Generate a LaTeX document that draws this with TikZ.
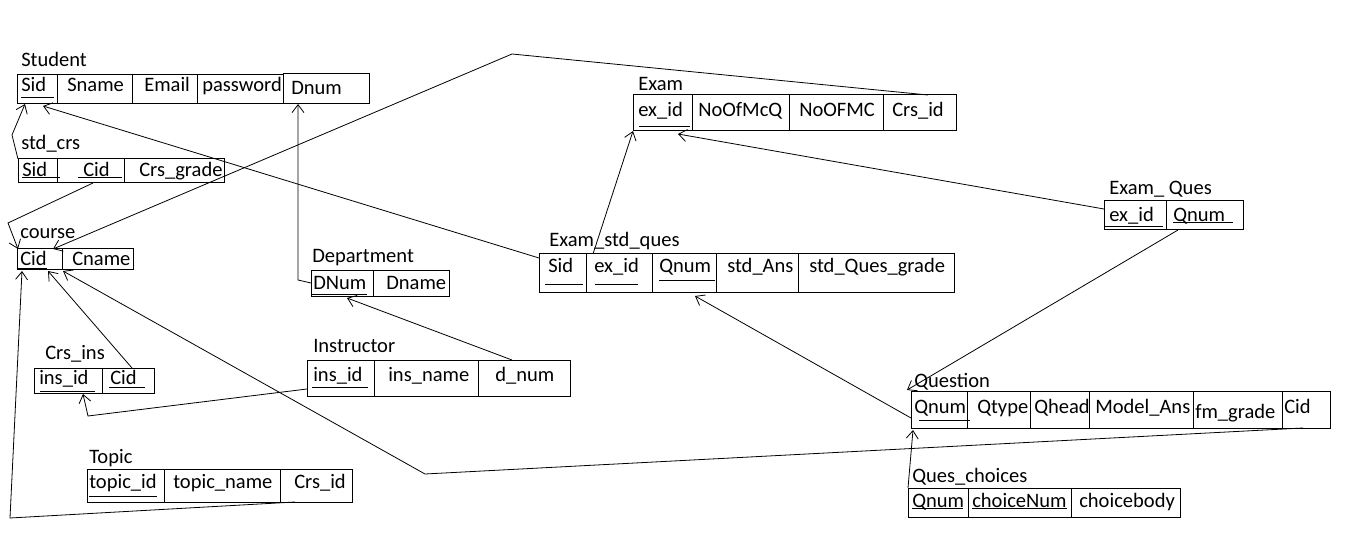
\documentclass[tikz,border=0pt]{standalone}
\usepackage{fontspec}
\setmainfont{Carlito}
\usetikzlibrary{arrows.meta,fit}
\tikzset{
  cell/.style={draw, line width=0.75pt, inner sep=0pt, outer sep=0pt},
  lbl/.style={anchor=base west, inner sep=0pt, font=\fontsize{15.4}{18}\selectfont},
  ul/.style={line width=0.75pt},
  rel/.style={line width=0.6pt, -{Straight Barb[length=6pt,width=9pt]}},
}
\newcommand{\cell}[8]{\node[cell, fit={(#2,#3)(#4,#5)}] (#1) {}; \node[lbl] (#1-t) at (#6,#7) {#8};}
\newcommand{\ulin}[3]{\draw[ul] (#1,#3) -- (#2,#3);}
\begin{document}
\begin{tikzpicture}[x=0.75pt,y=-0.75pt]
\useasboundingbox (0,0) rectangle (1360,538);
% Student
\node[lbl] (student) at (21,67) {Student};
\cell{s-sid}{17}{75}{57}{104}{21}{92}{Sid}
\cell{s-sname}{57}{75}{132}{104}{67}{92}{Sname}
\cell{s-email}{132}{75}{197}{104}{144}{92}{Email}
\cell{s-pass}{197}{75}{283}{104}{202}{92}{password}
\cell{s-dnum}{283}{74}{369}{104}{291}{95}{Dnum}
\ulin{21}{54}{98}
% std_crs
\node[lbl] (stdcrs) at (21,150) {std\_crs};
\cell{cs-sid}{18}{159}{57}{183}{22}{177}{Sid}
\cell{cs-cid}{57}{159}{124}{183}{83}{177}{Cid}
\cell{cs-grade}{124}{159}{224}{183}{139}{177}{Crs\_grade}
\ulin{22}{60}{178}
\ulin{78}{122}{178}
% course
\node[lbl] (course) at (20,239) {course};
\cell{c-cid}{17}{249}{62}{270}{20}{266}{Cid}
\cell{c-cname}{62}{249}{133}{270}{72}{266}{Cname}
\ulin{17}{47}{269}
% Department
\node[lbl] (dept) at (312,263) {Department};
\cell{d-dnum}{311}{271}{373}{297}{313}{290}{DNum}
\cell{d-dname}{373}{271}{449}{297}{386}{290}{Dname}
\ulin{312}{367}{295}
% Instructor
\node[lbl] (instr) at (313,353) {Instructor};
\cell{i-insid}{307}{360}{374}{396}{313}{381}{ins\_id}
\cell{i-name}{374}{360}{478}{396}{388}{381}{ins\_name}
\cell{i-dnum}{478}{360}{570}{396}{495}{381}{d\_num}
\ulin{312}{368}{387}
% Crs_ins
\node[lbl] (crsins) at (45,359) {Crs\_ins};
\cell{ci-insid}{34}{368}{102}{393}{39}{384}{ins\_id}
\cell{ci-cid}{102}{368}{154}{393}{110}{384}{Cid}
\ulin{40}{95}{391}
\ulin{109}{145}{387}
% Topic
\node[lbl] (topic) at (89,463) {Topic};
\cell{t-id}{87}{469}{164}{502}{89}{488}{topic\_id}
\cell{t-name}{164}{469}{280}{502}{173}{488}{topic\_name}
\cell{t-crs}{280}{469}{352}{502}{294}{488}{Crs\_id}
\ulin{89}{157}{496}
% Exam
\node[lbl] (exam) at (638,91) {Exam};
\cell{e-exid}{633}{95}{692}{131}{638}{117}{ex\_id}
\cell{e-mcq}{692}{95}{789}{131}{698}{117}{NoOfMcQ}
\cell{e-mc}{789}{95}{883}{131}{799}{117}{NoOFMC}
\cell{e-crs}{883}{95}{956}{131}{892}{117}{Crs\_id}
\ulin{639}{690}{127}
% Exam_std_ques
\node[lbl] (esq) at (549,247) {Exam\_std\_ques};
\cell{es-sid}{539}{254}{586}{293}{548}{273}{Sid}
\cell{es-exid}{586}{254}{652}{293}{594}{273}{ex\_id}
\cell{es-qnum}{652}{254}{716}{293}{659}{273}{Qnum}
\cell{es-ans}{716}{254}{798}{293}{727}{273}{std\_Ans}
\cell{es-grade}{798}{254}{954}{293}{809}{273}{std\_Ques\_grade}
\ulin{545}{583}{285}
\ulin{595}{638}{285}
\ulin{659}{715}{281}
% Exam_Ques
\node[lbl] (examques) at (1109,195) {Exam\_\ Ques};
\cell{eq-exid}{1104}{201}{1166}{230}{1109}{222}{ex\_id}
\cell{eq-qnum}{1166}{201}{1243}{230}{1173}{222}{Qnum}
\ulin{1105}{1163}{227}
\ulin{1173}{1233}{223}
% Question
\node[lbl] (question) at (914,387) {Question};
\cell{q-qnum}{911}{391}{967}{428}{914}{413}{Qnum}
\cell{q-type}{967}{391}{1030}{428}{977}{413}{Qtype}
\cell{q-head}{1030}{391}{1089}{428}{1034}{413}{Qhead}
\cell{q-ans}{1089}{391}{1193}{428}{1095}{413}{Model\_Ans}
\cell{q-fm}{1193}{391}{1282}{428}{1195}{418}{fm\_grade}
\cell{q-cid}{1282}{391}{1330}{428}{1284}{413}{Cid}
\ulin{919}{970}{420}
% Ques_choices
\node[lbl] (queschoices) at (912,482) {Ques\_choices};
\cell{qc-qnum}{908}{488}{968}{517}{912}{507}{Qnum}
\cell{qc-num}{968}{488}{1071}{517}{972}{507}{choiceNum}
\cell{qc-body}{1071}{488}{1180}{517}{1079}{507}{choicebody}
\ulin{912}{963}{508}
\ulin{972}{1067}{508}
% bend points
\coordinate (b1) at (12,135);
\coordinate (b3) at (8,223);
\coordinate (b4) at (512,54);
\coordinate (b5) at (298,280);
\coordinate (b7) at (88,416);
\coordinate (b9) at (10,518);
\coordinate (b10) at (425,474);
% connectors
\draw[rel] (cs-sid.north west) -- (b1) -- ([shift={(8,0)}]s-sid.south west);
\draw[rel] ([shift={(0,4)}]es-sid.north west) -- ([shift={(26,2)}]s-sid.south west);
\draw[rel] ([shift={(36,0)}]cs-cid.south west) -- (b3) -- ([shift={(1,0)}]c-cid.north west);
\draw[rel] ([shift={(45,0)}]e-crs.north west) -- (b4) -- ([shift={(36,0)}]c-cid.north west);
\draw[rel] ([shift={(0,12)}]d-dnum.north west) -- (b5) -- ([shift={(15,0)}]s-dnum.south west);
\draw[rel] ([shift={(34,0)}]i-dnum.north west) -- ([shift={(36,1)}]d-dnum.south west);
\draw[rel] ([shift={(0,29)}]i-insid.north west) -- (b7) -- ([shift={(49,1)}]ci-insid.south west);
\draw[rel] ([shift={(30,0)}]ci-cid.north west) -- ([shift={(31,1)}]c-cid.south west);
\draw[rel] ([shift={(15,0)}]t-crs.south west) -- (b9) -- ([shift={(5,1)}]c-cid.south west);
\draw[rel] ([shift={(21,0)}]q-cid.south west) -- (b10) -- ([shift={(1,1)}]c-cname.south west);
\draw[rel] ([shift={(7,0)}]es-exid.north west) -- (e-exid.south west);
\draw[rel] ([shift={(0,8)}]eq-exid.north west) -- ([shift={(45,3)}]e-exid.south west);
\draw[rel] ([shift={(12,0)}]eq-qnum.south west) -- ([shift={(-4,-1)}]q-qnum.north west);
\draw[rel] ([shift={(0,-10)}]q-qnum.south west) -- ([shift={(43,3)}]es-qnum.south west);
\draw[rel] (qc-qnum.north west) -- ([shift={(2,2)}]q-qnum.south west);
\end{tikzpicture}
\end{document}
